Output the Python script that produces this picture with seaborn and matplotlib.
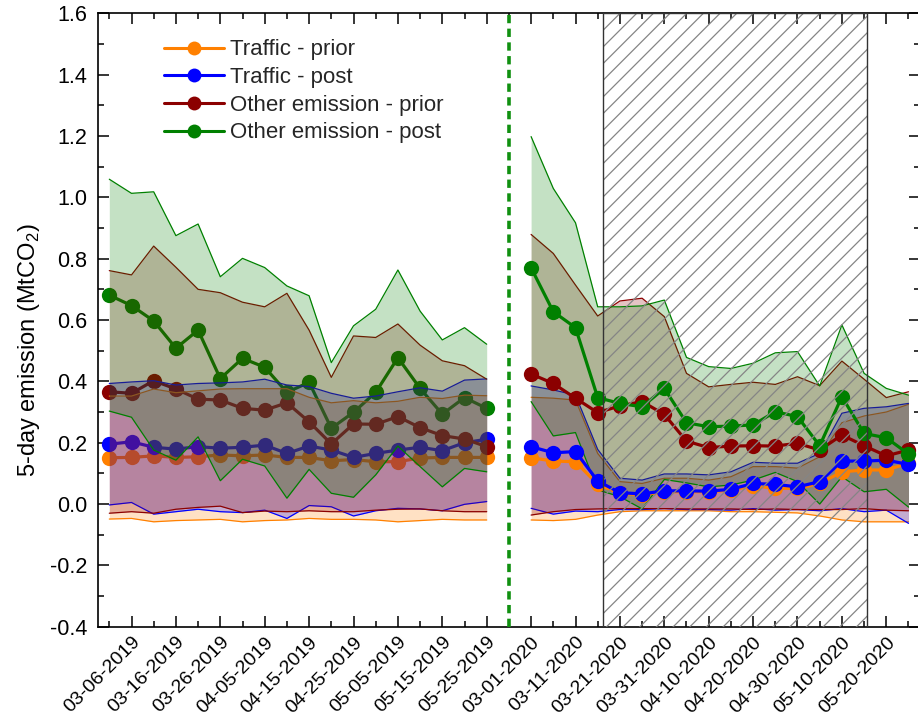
import numpy as np
import pandas as pd
import matplotlib
matplotlib.use("Agg")
import matplotlib.pyplot as plt
import seaborn as sns
from matplotlib.ticker import MultipleLocator
from matplotlib.patches import Rectangle
from matplotlib.lines import Line2D

# ---------------- data ----------------
x_2019 = list(range(0, 18))
x_2020 = list(range(19, 37))
gap_x = 18
lockdown_start, lockdown_end = 22.25, 34.15

tick_pos_2019 = [1, 3, 5, 7, 9, 11, 13, 15, 17]
tick_lab_2019 = ["03-06-2019", "03-16-2019", "03-26-2019", "04-05-2019", "04-15-2019",
                 "04-25-2019", "05-05-2019", "05-15-2019", "05-25-2019"]
tick_pos_2020 = [19, 21, 23, 25, 27, 29, 31, 33, 35]
tick_lab_2020 = ["03-01-2020", "03-11-2020", "03-21-2020", "03-31-2020", "04-10-2020",
                 "04-20-2020", "04-30-2020", "05-10-2020", "05-20-2020"]

# Traffic - prior
tp_2019 = [0.151, 0.152, 0.157, 0.152, 0.154, 0.160, 0.157, 0.160, 0.152, 0.152, 0.141, 0.145, 0.138, 0.138, 0.150, 0.152, 0.152, 0.152]
tp_hi_2019 = [0.352, 0.352, 0.375, 0.363, 0.369, 0.375, 0.376, 0.376, 0.376, 0.348, 0.330, 0.337, 0.330, 0.335, 0.348, 0.344, 0.355, 0.353]
tp_lo_2019 = [-0.049, -0.047, -0.058, -0.054, -0.052, -0.050, -0.058, -0.054, -0.052, -0.047, -0.050, -0.050, -0.052, -0.058, -0.054, -0.050, -0.052, -0.052]
tp_2020 = [0.151, 0.140, 0.138, 0.064, 0.035, 0.030, 0.040, 0.040, 0.040, 0.045, 0.060, 0.051, 0.051, 0.067, 0.105, 0.111, 0.111, 0.133]
tp_hi_2020 = [0.348, 0.345, 0.339, 0.165, 0.073, 0.067, 0.084, 0.084, 0.078, 0.089, 0.122, 0.122, 0.117, 0.154, 0.265, 0.287, 0.300, 0.325]
tp_lo_2020 = [-0.052, -0.054, -0.050, -0.036, -0.025, -0.022, -0.022, -0.022, -0.022, -0.025, -0.025, -0.027, -0.029, -0.039, -0.052, -0.058, -0.058, -0.058]

# Traffic - post
tq_2019 = [0.195, 0.203, 0.185, 0.179, 0.187, 0.182, 0.185, 0.192, 0.165, 0.189, 0.176, 0.152, 0.165, 0.176, 0.185, 0.174, 0.200, 0.211]
tq_hi_2019 = [0.393, 0.398, 0.402, 0.388, 0.393, 0.395, 0.398, 0.407, 0.388, 0.383, 0.361, 0.345, 0.352, 0.366, 0.379, 0.368, 0.404, 0.408]
tq_lo_2019 = [-0.003, 0.005, -0.033, -0.025, -0.017, -0.025, -0.028, -0.020, -0.047, -0.005, -0.009, -0.039, -0.022, -0.014, -0.016, -0.022, -0.001, 0.008]
tq_2020 = [0.187, 0.167, 0.171, 0.075, 0.037, 0.033, 0.043, 0.043, 0.042, 0.048, 0.067, 0.064, 0.056, 0.073, 0.140, 0.140, 0.143, 0.129]
tq_hi_2020 = [0.385, 0.372, 0.355, 0.178, 0.084, 0.078, 0.098, 0.098, 0.095, 0.105, 0.136, 0.133, 0.133, 0.165, 0.296, 0.312, 0.317, 0.328]
tq_lo_2020 = [-0.014, -0.033, -0.023, -0.025, -0.018, -0.018, -0.015, -0.018, -0.018, -0.020, -0.015, -0.020, -0.018, -0.022, -0.015, -0.025, -0.020, -0.063]

# Other emission - prior
op_2019 = [0.366, 0.361, 0.402, 0.375, 0.342, 0.339, 0.312, 0.306, 0.330, 0.268, 0.196, 0.261, 0.260, 0.285, 0.249, 0.223, 0.212, 0.187]
op_hi_2019 = [0.761, 0.747, 0.841, 0.772, 0.700, 0.689, 0.658, 0.643, 0.687, 0.567, 0.413, 0.548, 0.543, 0.587, 0.518, 0.467, 0.451, 0.407]
op_lo_2019 = [-0.030, -0.025, -0.030, -0.017, -0.011, -0.007, -0.028, -0.023, -0.025, -0.022, -0.025, -0.025, -0.020, -0.017, -0.016, -0.022, -0.025, -0.025]
op_2020 = [0.424, 0.393, 0.345, 0.298, 0.320, 0.334, 0.292, 0.205, 0.184, 0.189, 0.190, 0.189, 0.198, 0.176, 0.225, 0.190, 0.157, 0.176]
op_hi_2020 = [0.879, 0.817, 0.714, 0.613, 0.662, 0.671, 0.611, 0.426, 0.382, 0.390, 0.397, 0.390, 0.415, 0.386, 0.466, 0.407, 0.347, 0.366]
op_lo_2020 = [-0.036, -0.025, -0.018, -0.016, -0.015, -0.015, -0.015, -0.016, -0.016, -0.016, -0.018, -0.016, -0.018, -0.018, -0.018, -0.015, -0.020, -0.022]

# Other emission - post
oq_2019 = [0.681, 0.647, 0.597, 0.508, 0.567, 0.409, 0.475, 0.446, 0.364, 0.397, 0.247, 0.299, 0.364, 0.477, 0.377, 0.293, 0.347, 0.312]
oq_hi_2019 = [1.059, 1.013, 1.018, 0.875, 0.913, 0.741, 0.801, 0.771, 0.711, 0.679, 0.461, 0.581, 0.635, 0.763, 0.629, 0.535, 0.575, 0.521]
oq_lo_2019 = [0.303, 0.283, 0.176, 0.143, 0.219, 0.076, 0.146, 0.124, 0.019, 0.113, 0.035, 0.022, 0.095, 0.189, 0.122, 0.056, 0.116, 0.105]
oq_2020 = [0.770, 0.627, 0.575, 0.347, 0.328, 0.317, 0.377, 0.265, 0.252, 0.254, 0.258, 0.301, 0.285, 0.190, 0.350, 0.230, 0.216, 0.163]
oq_hi_2020 = [1.198, 1.029, 0.917, 0.643, 0.643, 0.646, 0.665, 0.478, 0.448, 0.442, 0.459, 0.493, 0.497, 0.385, 0.584, 0.426, 0.377, 0.355]
oq_lo_2020 = [0.334, 0.222, 0.233, 0.046, 0.024, -0.016, 0.080, 0.069, 0.056, 0.062, 0.078, 0.103, 0.073, 0.000, 0.089, 0.040, 0.048, -0.010]

series_names = ["Traffic - prior", "Traffic - post", "Other emission - prior", "Other emission - post"]
series_colors = ["#FF8000", "#0000FF", "#8B0000", "#008000"]

# ---------------- style ----------------
sns.set_theme(style="ticks")
plt.rcParams["font.family"] = ["Liberation Sans", "DejaVu Sans"]
plt.rcParams["axes.unicode_minus"] = False
plt.rcParams["hatch.linewidth"] = 0.9

fig = plt.figure(figsize=(9.18, 7.17), dpi=100)
fig.patch.set_facecolor("white")
ax = fig.add_axes([98.2 / 918, 90.3 / 717, 821.4 / 918, 613.4 / 717])
ax.set_facecolor("white")

segments = [
    (x_2019, [(tp_2019, tp_hi_2019, tp_lo_2019), (tq_2019, tq_hi_2019, tq_lo_2019),
              (op_2019, op_hi_2019, op_lo_2019), (oq_2019, oq_hi_2019, oq_lo_2019)], 2),
    (x_2020, [(tp_2020, tp_hi_2020, tp_lo_2020), (tq_2020, tq_hi_2020, tq_lo_2020),
              (op_2020, op_hi_2020, op_lo_2020), (oq_2020, oq_hi_2020, oq_lo_2020)], 4),
]

for xs, ser, line_z in segments:
    for (mean, hi, lo), name, col in zip(ser, series_names, series_colors):
        df = pd.DataFrame({"x": xs, "y": mean})
        sns.lineplot(data=df, x="x", y="y", ax=ax, color=col, marker="o",
                     markersize=11, markeredgewidth=0, linewidth=2.3,
                     zorder=line_z, legend=False)
    for (mean, hi, lo), name, col in zip(ser, series_names, series_colors):
        ax.fill_between(xs, lo, hi, color=col, alpha=0.23, linewidth=0, zorder=3)
        ax.plot(xs, hi, color=col, linewidth=0.9, zorder=3)
        ax.plot(xs, lo, color=col, linewidth=0.9, zorder=3)

# lockdown box (hatched)
ax.add_patch(Rectangle((lockdown_start, -0.4), lockdown_end - lockdown_start, 2.0,
                       fill=False, hatch="//", edgecolor="#858585", linewidth=0, zorder=5))
ax.add_patch(Rectangle((lockdown_start, -0.4), lockdown_end - lockdown_start, 2.0,
                       fill=False, edgecolor="#333333", linewidth=1.0, zorder=5))

# separator
ax.axvline(gap_x, color="#109010", linewidth=2.6, linestyle=(0, (2.3, 1.5)), zorder=5)

# axes
ax.set_xlim(-0.5, 36.5)
ax.set_ylim(-0.4, 1.6)
ax.yaxis.set_major_locator(MultipleLocator(0.2))
ax.yaxis.set_minor_locator(MultipleLocator(0.1))
ax.yaxis.set_major_formatter(matplotlib.ticker.FormatStrFormatter("%.1f"))
ax.set_xticks(tick_pos_2019 + tick_pos_2020)
ax.set_xticklabels(tick_lab_2019 + tick_lab_2020, rotation=45, ha="right",
                   rotation_mode="anchor")
ax.set_xticks(list(range(0, 37, 2)), minor=True)
ax.tick_params(which="major", direction="in", length=8, width=1.1, color="black",
               top=True, right=True, labelsize=15.5, labelcolor="black")
ax.tick_params(axis="x", which="major", labelsize=14)
ax.tick_params(which="minor", direction="in", length=4.5, width=1.1, color="black",
               top=True, right=True)
ax.tick_params(axis="x", which="major", pad=5)
ax.tick_params(axis="y", which="major", pad=8)
for sp in ax.spines.values():
    sp.set_color("black")
    sp.set_linewidth(1.2)

ax.set_xlabel("")
ax.set_ylabel("5-day emission (MtCO$_\\mathregular{2}$)", fontsize=17, color="black")
ax.yaxis.set_label_coords(-0.068, 0.45)

handles = [Line2D([0], [0], color=c, marker="o", markersize=10, linewidth=2.2,
                  markeredgewidth=0) for c in series_colors]
ax.legend(handles, series_names, loc="upper left", bbox_to_anchor=(0.069, 0.972),
          frameon=False, fontsize=16, handlelength=2.7, handletextpad=0.3,
          labelspacing=0.3, borderaxespad=0, borderpad=0.4)

fig.savefig("out.png", dpi=100, facecolor="white")
